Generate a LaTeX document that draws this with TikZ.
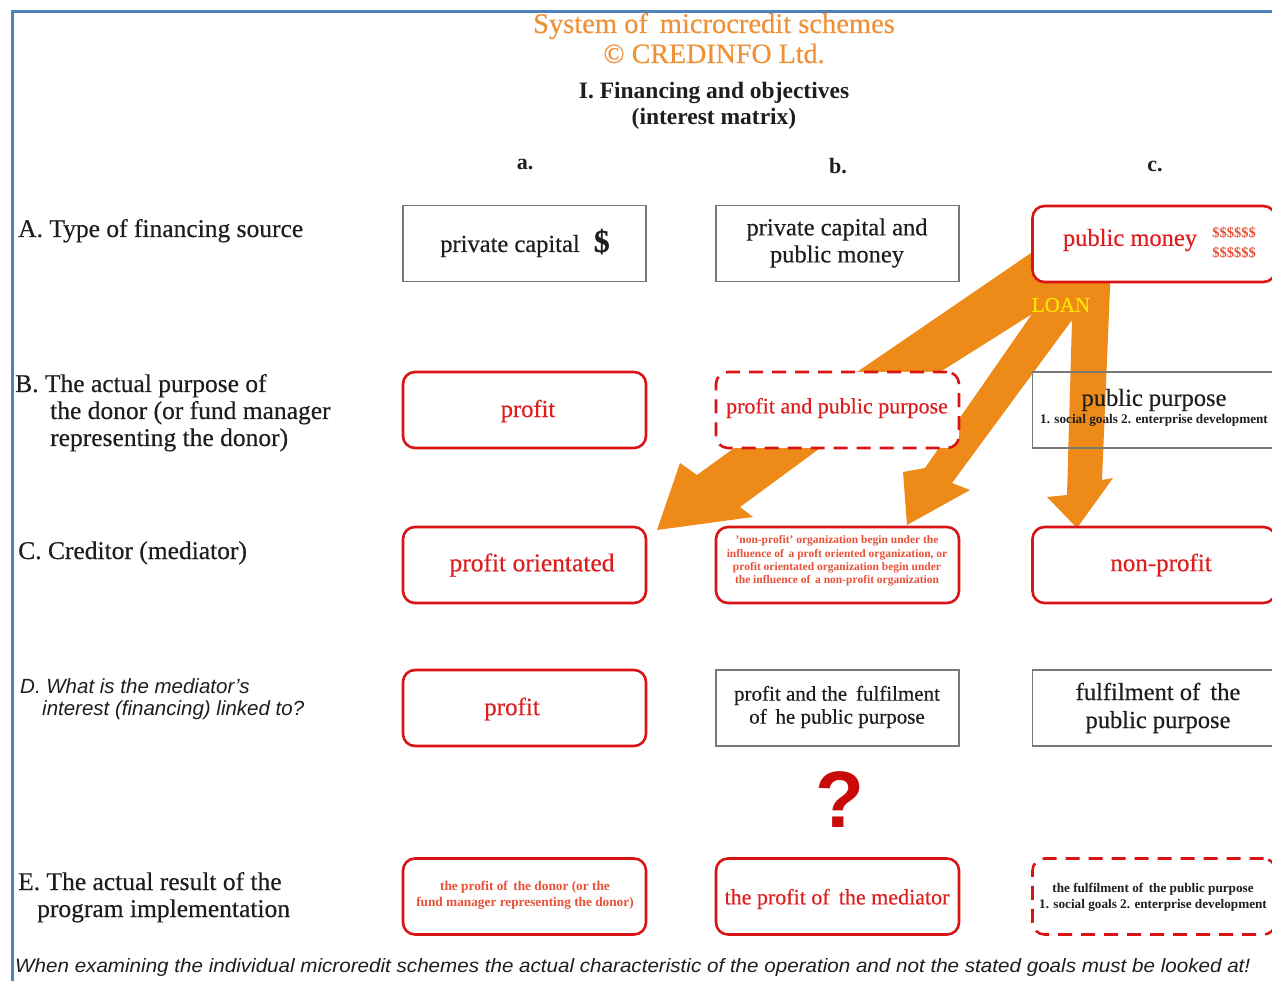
\documentclass[tikz,border=0pt]{standalone}
\usepackage{fontspec}
\setmainfont{Liberation Serif}
\setsansfont{Liberation Sans}
\newfontfamily\medrm{Liberation Serif}[FakeBold=0.4]
\usepackage{graphicx}
\newcommand\myfs[2]{\fontsize{#1}{#2}\selectfont}
\definecolor{ttlorange}{RGB}{240,145,55}
\definecolor{arroworange}{RGB}{238,138,24}
\definecolor{boxred}{RGB}{218,20,20}
\definecolor{txtred}{RGB}{222,30,30}
\definecolor{smallred}{RGB}{232,80,55}
\definecolor{framblue}{RGB}{79,129,189}
\definecolor{loanyellow}{RGB}{255,228,0}
\definecolor{qred}{RGB}{200,10,10}
\definecolor{txtdark}{RGB}{30,30,30}
\definecolor{boxgray}{RGB}{120,120,120}
\begin{document}
\begin{tikzpicture}[x=1pt,y=-1pt,
  redbox/.style={draw=boxred, line width=2.6pt, rounded corners=12pt, fill=white,
    minimum width=243pt, minimum height=76pt, inner sep=0pt},
  reddash/.style={redbox, dash pattern=on 14pt off 9pt},
  graybox/.style={draw=boxgray, line width=1.1pt, fill=white,
    minimum width=243pt, minimum height=76pt, inner sep=0pt},
  lbl/.style={anchor=base west, inner sep=0pt, font=\medrm\myfs{25.5}{28}, text=txtdark},
  bigtxt/.style={inner sep=0pt, font=\medrm\myfs{24.5}{27}, align=center},
  blk/.style={bigtxt, text=txtdark},
  red/.style={bigtxt, text=txtred},
  dollars/.style={inner sep=0pt, text=smallred, font=\myfs{14.5}{15}\bfseries},
  ttl/.style={anchor=base, inner sep=0pt}]
\useasboundingbox (0,0) rectangle (1272,981);
\clip (0,0) rectangle (1272,981);
\fill[white] (0,0) rectangle (1272,981);
\draw[framblue, line width=3pt] (12,981) -- (12,12) -- (1272,12);

% titles
\node[ttl, text=ttlorange, font=\medrm\myfs{28.5}{30}] (t1) at (714,33) {System of\, microcredit schemes};
\node[ttl, text=ttlorange, font=\medrm\myfs{28}{30}] (t2) at (714,63) {\textcopyright\ CREDINFO Ltd.};
\node[ttl, text=txtdark, font=\myfs{23.5}{26}\bfseries] (t3) at (714,99) {I. Financing and objectives};
\node[ttl, text=txtdark, font=\myfs{23.5}{26}\bfseries] (t4) at (714,125) {(interest matrix)};

% column letters
\node[ttl, text=txtdark, font=\myfs{22}{24}\bfseries] (ca) at (525,170) {a.};
\node[ttl, text=txtdark, font=\myfs{22}{24}\bfseries] (cb) at (838,174) {b.};
\node[ttl, text=txtdark, font=\myfs{22}{24}\bfseries] (cc) at (1155,172) {c.};

% row labels
\node[lbl] (la) at (18,237) {A. Type of financing source};
\node[lbl] (lb1) at (15,392) {B. The actual purpose of};
\node[lbl] (lb2) at (50,419) {the donor (or fund manager};
\node[lbl] (lb3) at (50,446) {representing the donor)};
\node[lbl] (lc) at (18,559) {C. Creditor (mediator)};
\node[lbl, font=\myfs{20.5}{22}\sffamily\itshape] (ld1) at (20,693) {D. What is the mediator's};
\node[lbl, font=\myfs{20.5}{22}\sffamily\itshape] (ld2) at (42,715) {interest (financing) linked to?};
\node[lbl] (le1) at (18,890) {E. The actual result of the};
\node[lbl] (le2) at (37,917) {program implementation};

% orange arrows
\fill[arroworange] (1050,240) -- (857,372) -- (940,372) -- (1032,314) -- (925,468)
  -- (903,472) -- (907,525) -- (970,490) -- (952,483) -- (1072,320) -- (1067,495)
  -- (1047,497) -- (1077,528) -- (1113,478) -- (1102,480) -- (1112,240) -- cycle;
\fill[arroworange] (737,446) -- (697,475) -- (680,463) -- (657,530) -- (753,517)
  -- (740,507) -- (823,446) -- cycle;

% row A
\node[graybox] (Aa) at (524.5,243.5) {};
\node[graybox] (Ab) at (837.5,243.5) {};
\node[redbox] (Ac) at (1154,244) {};
\node[blk] (Aat) at (525,243) {private capital\hspace{14pt}{\myfs{32}{32}\bfseries\$}};
\node[blk] (Abt) at (837,243) {private capital and\\public money};
\node[red] (Act) at (1130,240) {public money};
\node[dollars] (Acd1) at (1234,233) {\$\$\$\$\$\$};
\node[dollars] (Acd2) at (1234,253) {\$\$\$\$\$\$};

% row B
\node[redbox] (Ba) at (524.5,410) {};
\node[reddash] (Bb) at (837.5,410) {};
\node[graybox, fill=none] (Bc) at (1154,410) {};
\node[red] (Bat) at (528,411) {profit};
\node[red, font=\medrm\myfs{22}{24}] (Bbt) at (837,408) {profit and public purpose};
\node[blk] (Bct1) at (1154,400) {public purpose};
\node[inner sep=0pt, text=txtdark, font=\myfs{13.2}{14}\bfseries] (Bct2) at (1154,420) {1. social goals 2. enterprise development};

% row C
\node[redbox] (Ca) at (524.5,565) {};
\node[redbox] (Cb) at (837.5,565) {};
\node[redbox] (Cc) at (1154,565) {};
\node[red, font=\medrm\myfs{25.5}{27}] (Cat) at (532,565) {profit orientated};
\node[inner sep=0pt, text=smallred, font=\myfs{11.5}{13.4}\bfseries, align=center] (Cbt) at (837,561)
  {'non-profit' organization begin under the\\influence of\, a proft oriented organization, or\\profit orientated organization begin under\\the influence of\, a non-profit organization};
\node[red, font=\medrm\myfs{25}{27}] (Cct) at (1161,565) {non-profit};

% row D
\node[redbox] (Da) at (524.5,708) {};
\node[graybox] (Db) at (837.5,708) {};
\node[graybox] (Dc) at (1154,708) {};
\node[red, font=\medrm\myfs{25}{27}] (Dat) at (512,709) {profit};
\node[blk, font=\medrm\myfs{21}{23}] (Dbt) at (837,707) {profit and the\, fulfilment\\of\, he public purpose};
\node[blk, font=\medrm\myfs{24.5}{28}] (Dct) at (1158,708) {fulfilment of\, the\\public purpose};

% question mark
\node[inner sep=0pt, text=qred, font=\myfs{80}{80}\sffamily\bfseries] (q) at (840,800) {?};

% row E
\node[redbox] (Ea) at (524.5,896.5) {};
\node[redbox] (Eb) at (837.5,896.5) {};
\node[reddash] (Ec) at (1154,896.5) {};
\node[inner sep=0pt, text=smallred, font=\myfs{13.3}{16}\bfseries, align=center] (Eat) at (525,895)
  {the profit of\, the donor (or the\\fund manager representing the donor)};
\node[red, font=\medrm\myfs{22}{24}] (Ebt) at (837,899) {the profit of\, the mediator};
\node[inner sep=0pt, text=txtdark, font=\myfs{13.2}{16}\bfseries, align=center] (Ect) at (1153,897)
  {the fulfilment of\, the public purpose\\1. social goals 2. enterprise development};

% LOAN
\node[inner sep=0pt, text=loanyellow, font=\medrm\myfs{21}{22}] (loan) at (1061,305) {LOAN};

% bottom note
\node[anchor=base west, inner sep=0pt, text=txtdark] (note) at (15,972)
  {\resizebox{1235pt}{14pt}{\sffamily\itshape When examining the individual microredit schemes the actual characteristic of the operation and not the stated goals must be looked at!}};
\end{tikzpicture}
\end{document}
